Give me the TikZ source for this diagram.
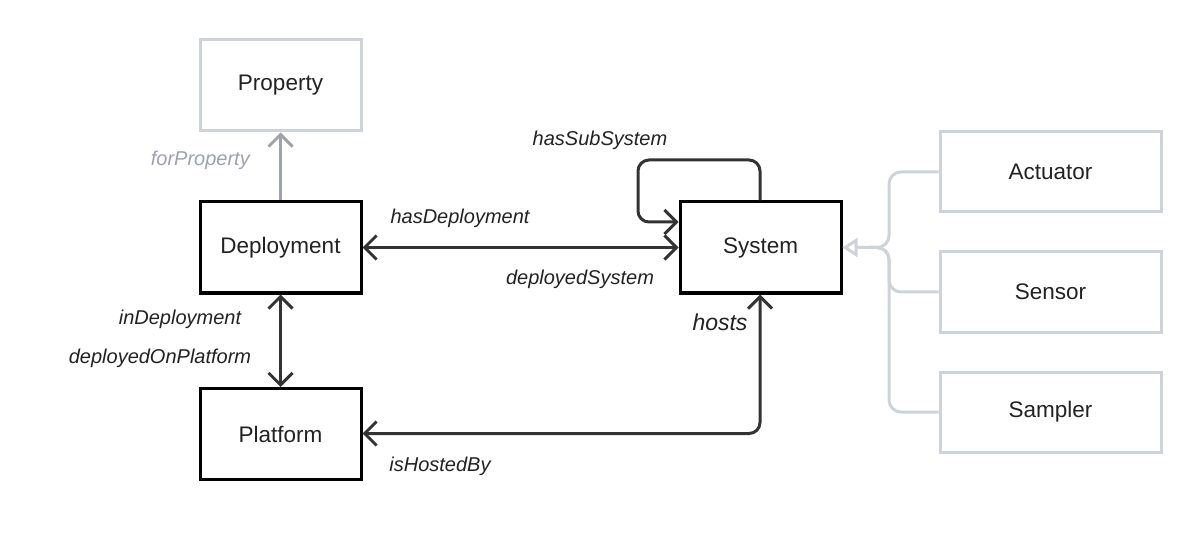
\documentclass[tikz,border=0pt]{standalone}
\usepackage{fontspec}
\setmainfont{Liberation Sans}
\usetikzlibrary{arrows.meta}
\definecolor{inkdark}{HTML}{333333}
\definecolor{textdark}{HTML}{222222}
\definecolor{softgrey}{HTML}{CED3DA}
\definecolor{midgrey}{HTML}{9EA3AB}
\begin{document}
\begin{tikzpicture}[x=1pt,y=-1pt,
  classbox/.style={draw=black,line width=3pt,fill=white,minimum width=161pt,minimum height=91pt,
    text=textdark,font=\fontsize{22.5}{26}\selectfont},
  greybox/.style={draw=softgrey,line width=3pt,fill=white,minimum width=161pt,minimum height=91pt,
    text=textdark,font=\fontsize{22.5}{26}\selectfont},
  subbox/.style={greybox,minimum width=221pt,minimum height=80pt},
  conn/.style={draw=inkdark,line width=3pt},
  chev/.tip={Straight Barb[length=12pt,width=24pt,line width=3pt]},
  lbl/.style={text=textdark,font=\fontsize{20}{24}\selectfont\itshape,inner sep=0pt},
]
\useasboundingbox[fill=white] (0,0) rectangle (1200,540);

% classes
\node[greybox]  (prop)   at (280.5,85.5)  {Property};
\node[classbox] (deploy) at (280.5,247.5) {Deployment};
\node[classbox] (plat)   at (280.5,434)   {Platform};
\node[classbox] (sys)    at (760.5,247.5) {System};
\node[subbox]   (act)    at (1050.5,172)  {Actuator};
\node[subbox]   (sens)   at (1050.5,292)  {Sensor};
\node[subbox]   (samp)   at (1050.5,412)  {Sampler};

% forProperty
\draw[draw=midgrey,line width=3pt,-{Straight Barb[length=12pt,width=24pt,line width=3pt]}]
  (deploy.north) -- (prop.south);
\node[lbl,text=midgrey,anchor=east] (lfp) at (250,160) {forProperty};

% hasDeployment / deployedSystem
\draw[conn,chev-chev] (deploy.east) -- (sys.west);
\node[lbl] (lhd) at (460,218) {hasDeployment};
\node[lbl] (lds) at (580,279) {deployedSystem};

% hasSubSystem loop
\coordinate (loopa) at (760,160);
\coordinate (loopb) at (638,160);
\coordinate (loopc) at (638,222);
\draw[conn,rounded corners=11pt,-chev] ([xshift=-0.5pt]sys.north) -- (loopa) -- (loopb) -- (loopc)
  -- ([yshift=25.5pt]sys.west);
\node[lbl] (lss) at (600,140) {hasSubSystem};

% inDeployment / deployedOnPlatform
\draw[conn,chev-chev] (deploy.south) -- (plat.north);
\node[lbl] (lid) at (180,319) {inDeployment};
\node[lbl] (ldp) at (160,358) {deployedOnPlatform};

% hosts / isHostedBy
\coordinate (hostc) at (760,433.5);
\draw[conn,rounded corners=11pt,chev-chev] ([yshift=0.5pt]plat.east) -- (hostc) -- ([xshift=-0.5pt]sys.south);
\node[lbl,font=\fontsize{23}{27}\selectfont\itshape] (lh) at (720,322) {hosts};
\node[lbl] (lhb) at (440,466) {isHostedBy};

% specialisations of System
\coordinate (trunk) at (889,247.5);
\draw[draw=softgrey,line width=3pt,rounded corners=12pt,-{Triangle[open,length=15pt,width=19pt,line width=3pt]}]
  (act.west) -- (889,172) -- (trunk) -- (sys.east);
\draw[draw=softgrey,line width=3pt,rounded corners=12pt] (sens.west) -- (889,292) -- (trunk) -- (870,247.5);
\draw[draw=softgrey,line width=3pt,rounded corners=12pt] (samp.west) -- (889,412) -- (trunk) -- (870,247.5);
\end{tikzpicture}
\end{document}
